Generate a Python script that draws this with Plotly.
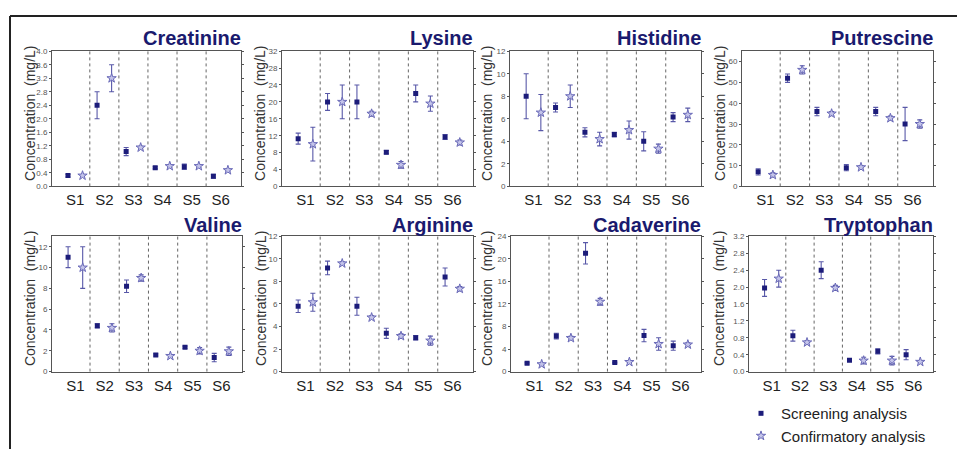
import plotly.graph_objects as go

groups = ["S1", "S2", "S3", "S4", "S5", "S6"]
analytes = ["Creatinine", "Lysine", "Histidine", "Putrescine",
            "Valine", "Arginine", "Cadaverine", "Tryptophan"]

# screening / confirmatory analysis (mean, error) per analyte
creatinine_scr = [0.32, 2.40, 1.03, 0.55, 0.58, 0.30]
creatinine_scr_err = [0.04, 0.40, 0.12, 0.03, 0.08, 0.06]
creatinine_conf = [0.32, 3.20, 1.15, 0.60, 0.60, 0.48]
creatinine_conf_err = [0.03, 0.40, 0.04, 0.04, 0.04, 0.03]

lysine_scr = [11.3, 20.0, 20.0, 8.1, 22.0, 11.7]
lysine_scr_err = [1.3, 2.0, 4.0, 0.4, 2.0, 0.6]
lysine_conf = [10.0, 20.0, 17.2, 5.1, 19.6, 10.4]
lysine_conf_err = [4.0, 4.0, 0.6, 0.8, 1.8, 0.6]

histidine_scr = [8.0, 7.0, 4.8, 4.6, 4.0, 6.15]
histidine_scr_err = [2.0, 0.4, 0.4, 0.2, 0.85, 0.4]
histidine_conf = [6.55, 8.0, 4.2, 5.0, 3.35, 6.35]
histidine_conf_err = [1.6, 1.0, 0.6, 0.8, 0.4, 0.6]

putrescine_scr = [7.0, 52.0, 36.0, 9.0, 36.0, 30.0]
putrescine_scr_err = [1.5, 2.0, 2.0, 1.5, 2.0, 8.0]
putrescine_conf = [5.5, 56.0, 35.0, 9.2, 32.8, 30.0]
putrescine_conf_err = [1.0, 2.0, 1.0, 0.8, 1.0, 2.0]

valine_scr = [11.0, 4.4, 8.2, 1.6, 2.35, 1.35]
valine_scr_err = [1.0, 0.2, 0.6, 0.1, 0.1, 0.4]
valine_conf = [10.0, 4.2, 9.0, 1.5, 2.0, 1.95]
valine_conf_err = [2.0, 0.4, 0.3, 0.15, 0.3, 0.4]

arginine_scr = [5.8, 9.2, 5.8, 3.4, 3.0, 8.4]
arginine_scr_err = [0.55, 0.6, 0.8, 0.45, 0.2, 0.8]
arginine_conf = [6.15, 9.6, 4.8, 3.15, 2.75, 7.35]
arginine_conf_err = [0.8, 0.15, 0.15, 0.2, 0.4, 0.2]

cadaverine_scr = [1.5, 6.3, 21.0, 1.6, 6.4, 4.6]
cadaverine_scr_err = [0.15, 0.5, 1.9, 0.1, 1.1, 0.8]
cadaverine_conf = [1.3, 5.95, 12.4, 1.7, 4.9, 4.8]
cadaverine_conf_err = [0.2, 0.3, 0.6, 0.1, 1.1, 0.3]

tryptophan_scr = [1.98, 0.85, 2.40, 0.27, 0.48, 0.40]
tryptophan_scr_err = [0.2, 0.13, 0.2, 0.03, 0.06, 0.12]
tryptophan_conf = [2.20, 0.69, 1.98, 0.26, 0.26, 0.23]
tryptophan_conf_err = [0.2, 0.04, 0.06, 0.08, 0.1, 0.02]

y_max = [4.0, 32, 12, 65, 13, 12, 24, 3.2]
y_dtick = [0.4, 4, 2, 10, 2, 2, 4, 0.4]
y_fmt = [".1f", "d", "d", "d", "d", "d", "d", ".1f"]

series = {
    "Creatinine": (creatinine_scr, creatinine_scr_err, creatinine_conf, creatinine_conf_err),
    "Lysine": (lysine_scr, lysine_scr_err, lysine_conf, lysine_conf_err),
    "Histidine": (histidine_scr, histidine_scr_err, histidine_conf, histidine_conf_err),
    "Putrescine": (putrescine_scr, putrescine_scr_err, putrescine_conf, putrescine_conf_err),
    "Valine": (valine_scr, valine_scr_err, valine_conf, valine_conf_err),
    "Arginine": (arginine_scr, arginine_scr_err, arginine_conf, arginine_conf_err),
    "Cadaverine": (cadaverine_scr, cadaverine_scr_err, cadaverine_conf, cadaverine_conf_err),
    "Tryptophan": (tryptophan_scr, tryptophan_scr_err, tryptophan_conf, tryptophan_conf_err),
}

OFF = 8  # page body margin
W, H = 965 - OFF, 454 - OFF


def px(x):
    return (x - OFF) / W


def py(y):
    return 1 - (y - OFF) / H


# plot areas in page pixels (left, right, top, bottom)
boxes = [
    (52, 241, 48, 186), (282, 473, 48, 186), (510, 701, 48, 186), (742, 933, 48, 186),
    (52, 242, 237, 375), (282, 473, 237, 375), (511, 701, 237, 375), (749, 933, 237, 375),
]
ytitle_x = [30, 260, 487, 720, 30, 261, 487, 719]

NAVY = "#1c1c7a"
STAR_LINE = "#6a6ab8"
STAR_FILL = "#c4c4ea"
ERR = "#5858a8"
TITLE = "#1a1a6e"

fig = go.Figure()
layout = dict(width=W, height=H, margin=dict(l=0, r=0, t=0, b=0),
              paper_bgcolor="white", plot_bgcolor="white", showlegend=True)
shapes = []
annotations = []

x_scr = [1, 3, 5, 7, 9, 11]
x_conf = [2, 4, 6, 8, 10, 12]

for i, name in enumerate(analytes):
    s, se, c, ce = series[name]
    ax = "" if i == 0 else str(i + 1)
    xa, ya = "x" + ax, "y" + ax
    fig.add_trace(go.Scatter(
        x=x_scr, y=s, mode="markers", xaxis=xa, yaxis=ya,
        name="Screening analysis", legendgroup="scr", showlegend=(i == 0),
        marker=dict(symbol="square", size=5, color=NAVY),
        error_y=dict(type="data", array=se, color=ERR, thickness=1.1, width=2.5)))
    fig.add_trace(go.Scatter(
        x=x_conf, y=c, mode="markers", xaxis=xa, yaxis=ya,
        name="Confirmatory analysis", legendgroup="conf", showlegend=(i == 0),
        marker=dict(symbol="star", size=7, color=STAR_FILL, line=dict(color=STAR_LINE, width=1)),
        error_y=dict(type="data", array=ce, color=ERR, thickness=1.1, width=2.5)))

    l, r, t, b = boxes[i]
    layout["xaxis" + ax] = dict(
        domain=[px(l), px(r)], range=[-0.1, 12.9], anchor=ya,
        tickvals=[1.5, 3.5, 5.5, 7.5, 9.5, 11.5], ticktext=groups, ticks="",
        tickfont=dict(family="Arial", size=15, color="#222"),
        showline=True, linecolor="#555", linewidth=1, mirror=True,
        showgrid=False, zeroline=False, fixedrange=True)
    layout["yaxis" + ax] = dict(
        domain=[py(b), py(t)], range=[0, y_max[i]], anchor=xa,
        dtick=y_dtick[i], tick0=0, tickformat=y_fmt[i],
        ticks="outside", ticklen=2, tickcolor="#555",
        tickfont=dict(family="Arial", size=8, color="#555"),
        showline=True, linecolor="#555", linewidth=1, mirror="ticks",
        showgrid=False, zeroline=False, fixedrange=True)

    for sep in [2.5, 4.5, 6.5, 8.5, 10.5]:
        shapes.append(dict(type="line", xref=xa, yref=ya + " domain",
                           x0=sep, x1=sep, y0=0, y1=1,
                           line=dict(color="#666", width=1, dash="dot")))
    ty = 35 if i < 4 else 225
    annotations.append(dict(text="<b>%s</b>" % name, xref="paper", yref="paper",
                            x=px(r + 2), y=py(ty), xanchor="right", yanchor="middle",
                            showarrow=False,
                            font=dict(family="Arial", size=20, color=TITLE)))
    annotations.append(dict(text="Concentration  (mg/L)", xref="paper", yref="paper",
                            x=px(ytitle_x[i]), y=py((t + b) / 2 - 5), textangle=-90,
                            xanchor="center", yanchor="middle", showarrow=False,
                            font=dict(family="Arial", size=14, color="#333")))

# outer frame lines (left and top)
shapes.append(dict(type="line", xref="paper", yref="paper", x0=px(10), x1=px(10),
                   y0=0, y1=py(12), line=dict(color="#222", width=2)))
shapes.append(dict(type="line", xref="paper", yref="paper", x0=px(10), x1=1,
                   y0=py(12), y1=py(12), line=dict(color="#222", width=2)))

layout["shapes"] = shapes
layout["annotations"] = annotations
layout["legend"] = dict(x=px(741), y=py(401), xanchor="left", yanchor="top",
                        font=dict(family="Arial", size=15, color="#222"),
                        bgcolor="rgba(0,0,0,0)", tracegroupgap=0, itemwidth=30)
fig.update_layout(**layout)
fig.write_html("out.html")
